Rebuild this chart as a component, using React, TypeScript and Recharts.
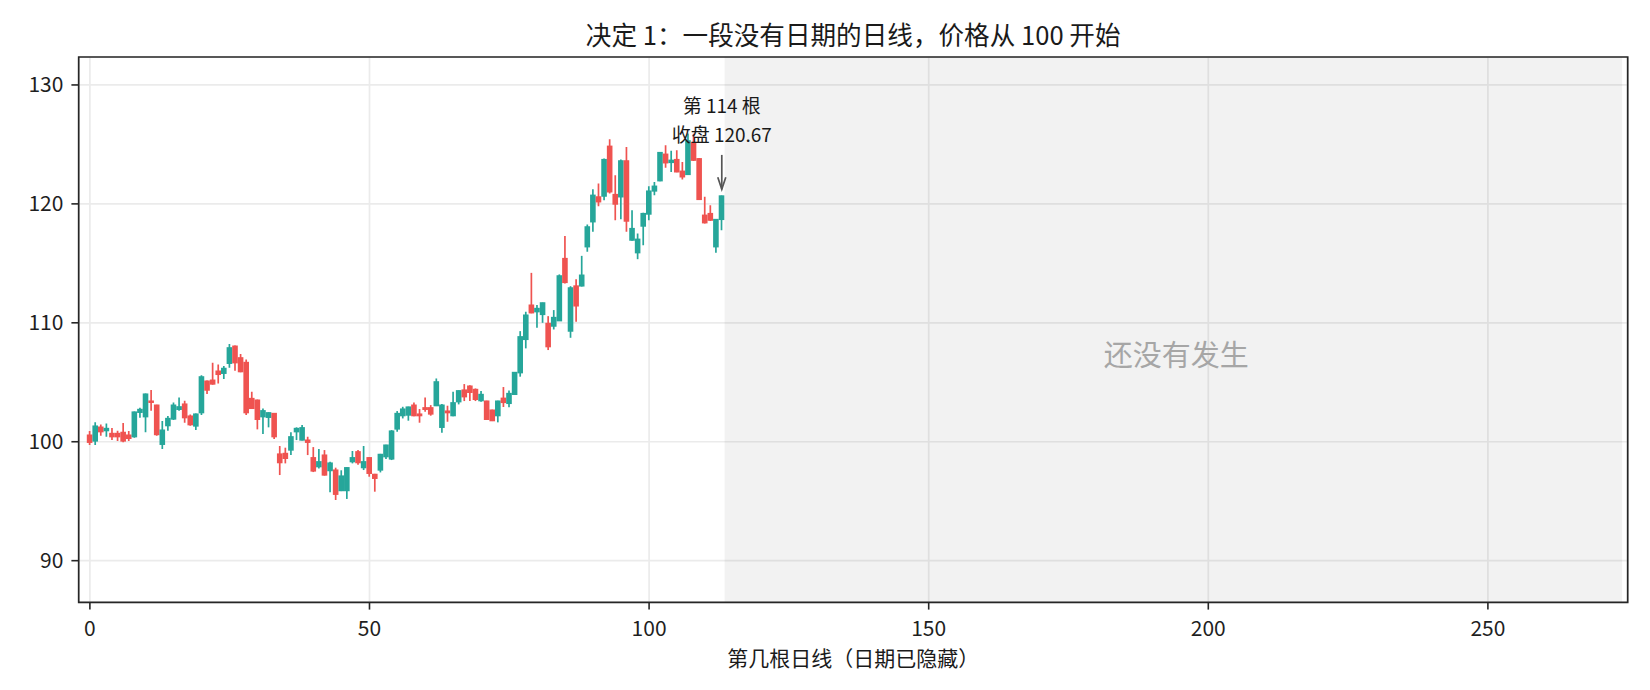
import React from 'react';
import {
  ComposedChart,
  Bar,
  XAxis,
  YAxis,
  CartesianGrid,
  ReferenceArea,
  ReferenceDot,
} from 'recharts';

const FONT = '"Noto Sans CJK SC", "Noto Sans", sans-serif';
const UP = '#26a69a';
const DOWN = '#ef5350';

const opens = [
  100.56, 100.06, 101.23, 100.93, 100.7, 100.7, 100.79, 100.56, 100.42, 102.47,
  102.1, 103.42, 103.08, 99.78, 101.35, 101.91, 102.72, 103.17, 102.16, 101.32,
  102.44, 105.1, 105.18, 105.94, 105.75, 106.59, 108.04, 107.06, 106.67, 103.64,
  103.5, 102.1, 102.05, 102.38, 98.97, 99.02, 99.3, 100.84, 100.14, 100.14,
  98.66, 97.9, 98.88, 97.57, 97.62, 95.89, 95.89, 98.32, 99.16, 97.82,
  98.66, 97.26, 97.62, 98.74, 98.55, 101.07, 102.19, 102.24, 103.08, 102.33,
  102.86, 102.86, 103.03, 101.21, 102.58, 102.19, 103.36, 104.35, 104.68, 104.4,
  103.45, 103.42, 102.66, 102.19, 103.66, 103.22, 103.98, 105.8, 108.6, 111.49,
  110.93, 110.7, 109.95, 109.72, 110.17, 115.41, 109.3, 113.1, 113.1, 116.39,
  118.49, 120.59, 120.65, 124.85, 120.79, 120.59, 123.62, 116.95, 115.89, 118.13,
  119.14, 121.08, 121.94, 124.18, 123.48, 123.73, 122.75, 122.47, 125.16, 123.8,
  119.05, 119.19, 116.39, 118.69,
];

const highs = [
  100.9, 101.63, 101.46, 101.54, 101.15, 100.93, 101.57, 100.9, 102.55, 102.86,
  104.05, 104.35, 103.1, 101.74, 102.16, 103.31, 103.73, 103.45, 102.3, 102.38,
  105.6, 105.15, 106.64, 106.5, 106.36, 108.21, 108.1, 107.37, 106.92, 104.2,
  103.55, 102.8, 102.48, 102.42, 99.64, 99.5, 100.79, 101.21, 101.4, 100.42,
  99.55, 99.39, 99.3, 98.32, 97.82, 97.6, 97.85, 99.22, 99.3, 99.64,
  98.7, 97.3, 98.98, 99.75, 100.98, 102.58, 102.94, 102.95, 103.31, 102.75,
  103.73, 103.08, 105.32, 103.17, 103.03, 104.2, 104.32, 104.85, 104.76, 104.48,
  104.26, 103.45, 102.7, 103.45, 104.6, 104.3, 105.85, 109.3, 110.93, 114.2,
  111.49, 111.7, 110.56, 111.07, 114.07, 117.3, 113.08, 113.67, 115.63, 118.27,
  121.24, 121.71, 123.81, 125.44, 122.41, 123.73, 124.79, 119.47, 117.51, 119.25,
  121.49, 121.85, 124.37, 124.93, 124.46, 124.51, 123.53, 125.91, 125.9, 123.85,
  120.59, 119.89, 118.72, 120.7,
];

const lows = [
  99.72, 99.72, 100.5, 100.42, 100.14, 100.06, 99.95, 100.06, 100.34, 102.02,
  100.79, 102.61, 100.5, 99.39, 100.93, 101.82, 102.61, 101.6, 101.35, 100.98,
  102.24, 104.01, 104.8, 104.9, 105.27, 106.22, 105.97, 105.85, 102.24, 102.75,
  101.04, 100.65, 101.21, 100.23, 97.2, 98.18, 98.88, 100.14, 100.1, 98.88,
  97.45, 97.74, 97.15, 95.75, 95.1, 95.85, 95.19, 98.18, 98.07, 97.62,
  97.06, 95.8, 97.42, 98.55, 98.46, 100.84, 101.96, 101.77, 102.15, 101.6,
  102.52, 102.19, 103.0, 100.76, 101.68, 102.15, 103.14, 103.42, 103.42, 103.42,
  103.36, 101.85, 101.74, 101.63, 102.92, 102.89, 103.95, 105.47, 107.85, 110.8,
  109.58, 110.0, 107.71, 109.44, 110.15, 113.31, 108.74, 110.09, 113.05, 115.97,
  117.65, 119.81, 120.31, 120.87, 118.63, 118.71, 117.65, 116.9, 115.35, 116.53,
  118.63, 120.73, 121.9, 123.03, 122.69, 122.65, 122.05, 122.45, 123.6, 120.33,
  118.35, 118.57, 115.89, 117.79,
];

const closes = [
  99.95, 101.32, 100.84, 101.12, 100.42, 100.42, 100.06, 100.28, 102.5, 102.72,
  104.01, 103.31, 100.6, 100.98, 101.96, 103.08, 102.94, 102.02, 101.43, 102.33,
  105.46, 104.34, 104.85, 105.66, 106.17, 107.9, 106.64, 105.89, 102.44, 102.8,
  101.88, 102.61, 102.44, 100.42, 98.24, 98.6, 100.42, 101.12, 101.18, 99.95,
  97.54, 98.32, 97.2, 98.21, 95.58, 97.12, 97.82, 98.66, 98.24, 98.32,
  97.34, 96.92, 98.94, 99.72, 100.9, 102.38, 102.75, 102.92, 102.19, 102.19,
  102.72, 102.33, 105.04, 103.08, 102.44, 103.28, 104.29, 103.78, 104.15, 103.56,
  103.98, 101.88, 101.77, 103.42, 103.3, 104.06, 105.83, 108.83, 110.65, 110.84,
  111.21, 111.68, 107.99, 110.45, 113.95, 113.39, 112.94, 111.42, 114.01, 118.07,
  120.73, 120.17, 123.73, 121.01, 119.98, 123.62, 118.55, 117.93, 117.03, 119.19,
  121.08, 121.49, 124.32, 123.45, 123.67, 122.69, 122.27, 125.3, 123.67, 120.37,
  118.41, 118.63, 118.69, 120.67,
];

const xTicks = [0, 50, 100, 150, 200, 250];
const yTicks = [90, 100, 110, 120, 130];
const xDomain = [-2, 275];
const yDomain = [86.5, 132.35];
const futureStart = 113.5;
const futureEnd = 274;
const lastBar = 113;
const lastClose = 120.67;
const futureLabelPos = { x: 194.25, y: 107.5 };

const title = '决定 1：一段没有日期的日线，价格从 100 开始';
const xLabel = '第几根日线（日期已隐藏）';
const noteLines = ['第 114 根', '收盘 120.67'];
const futureLabel = '还没有发生';

const data = opens.map((o, i) => ({
  bar: i,
  open: o,
  high: highs[i],
  low: lows[i],
  close: closes[i],
  range: [lows[i], highs[i]],
}));

// candle drawn inside the [low, high] range bar that recharts positions for us
function Candle(props: any) {
  const { x, y, width, height, payload } = props;
  if (!payload) return null;
  const top = Math.min(y, y + height);
  const bottom = Math.max(y, y + height);
  const span = payload.high - payload.low;
  const py = (v: number) => top + ((payload.high - v) / span) * (bottom - top);
  const cx = x + width / 2;
  const up = payload.close >= payload.open;
  const color = up ? UP : DOWN;
  const bTop = py(Math.max(payload.open, payload.close));
  const bBot = py(Math.min(payload.open, payload.close));
  const bodyW = 5.6;
  return (
    <g>
      <line x1={cx} x2={cx} y1={top} y2={bottom} stroke={color} strokeWidth={1.7} />
      <rect
        x={cx - bodyW / 2}
        y={bTop - 0.6}
        width={bodyW}
        height={Math.max(bBot - bTop + 1.2, 1.4)}
        fill={color}
      />
    </g>
  );
}

function Note(props: any) {
  const { cx, cy } = props;
  if (cx == null || cy == null) return null;
  const tip = cy - 6.6;
  const start = cy - 41;
  return (
    <g>
      <text x={cx} y={cy - 82.6} textAnchor="middle" fontSize={19} fill="#1a1a1a" fontFamily={FONT}>
        {noteLines[0]}
      </text>
      <text x={cx} y={cy - 54.2} textAnchor="middle" fontSize={19} fill="#1a1a1a" fontFamily={FONT}>
        {noteLines[1]}
      </text>
      <line x1={cx} x2={cx} y1={start} y2={tip} stroke="#555555" strokeWidth={1.7} />
      <polyline
        points={`${cx - 4},${tip - 12} ${cx},${tip} ${cx + 4},${tip - 12}`}
        fill="none"
        stroke="#555555"
        strokeWidth={1.7}
      />
    </g>
  );
}

function FutureText(props: any) {
  const { cx, cy } = props;
  if (cx == null || cy == null) return null;
  return (
    <text
      x={cx}
      y={cy}
      textAnchor="middle"
      dominantBaseline="central"
      fontSize={29}
      fill="#a6a6a6"
      fontFamily={FONT}
    >
      {futureLabel}
    </text>
  );
}

export default function App() {
  const tickStyle = { fontSize: 21, fill: '#1f1f1f', fontFamily: FONT };
  return (
    <div style={{ position: 'absolute', left: 0, top: 0, width: 1650, height: 690, background: '#ffffff' }}>
      <ComposedChart
        width={1650}
        height={690}
        data={data}
        margin={{ top: 57, right: 22.3, bottom: 37.7, left: 0 }}
        style={{ fontFamily: FONT }}
      >
        <CartesianGrid stroke="#ebebeb" strokeWidth={1.7} />
        <XAxis
          dataKey="bar"
          type="number"
          domain={xDomain}
          ticks={xTicks}
          allowDataOverflow
          height={50}
          axisLine={false}
          tickSize={7.3}
          tickLine={{ stroke: '#262626', strokeWidth: 1.6 }}
          tickMargin={11.5}
          tick={tickStyle}
        />
        <YAxis
          type="number"
          domain={yDomain}
          ticks={yTicks}
          allowDataOverflow
          width={78.7}
          axisLine={false}
          tickSize={7.3}
          tickLine={{ stroke: '#262626', strokeWidth: 1.6 }}
          tickMargin={8}
          tick={tickStyle}
        />
        <ReferenceArea x1={futureStart} x2={futureEnd} fill="#000000" fillOpacity={0.05} stroke="none" />
        <Bar dataKey="range" barSize={6} isAnimationActive={false} shape={(p: any) => <Candle {...p} />} />
        <ReferenceDot x={lastBar} y={lastClose} r={0} shape={(p: any) => <Note {...p} />} />
        <ReferenceDot x={futureLabelPos.x} y={futureLabelPos.y} r={0} shape={(p: any) => <FutureText {...p} />} />
        <ReferenceArea
          x1={xDomain[0]}
          x2={xDomain[1]}
          y1={yDomain[0]}
          y2={yDomain[1]}
          fill="none"
          stroke="#262626"
          strokeWidth={1.7}
        />
      </ComposedChart>
      <svg
        width={1650}
        height={690}
        style={{ position: 'absolute', left: 0, top: 0, pointerEvents: 'none' }}
      >
        <text x={853.2} y={45} textAnchor="middle" fontSize={25.6} fill="#1a1a1a" fontFamily={FONT}>
          {title}
        </text>
        <text x={853.2} y={666} textAnchor="middle" fontSize={21} fill="#1a1a1a" fontFamily={FONT}>
          {xLabel}
        </text>
      </svg>
    </div>
  );
}
